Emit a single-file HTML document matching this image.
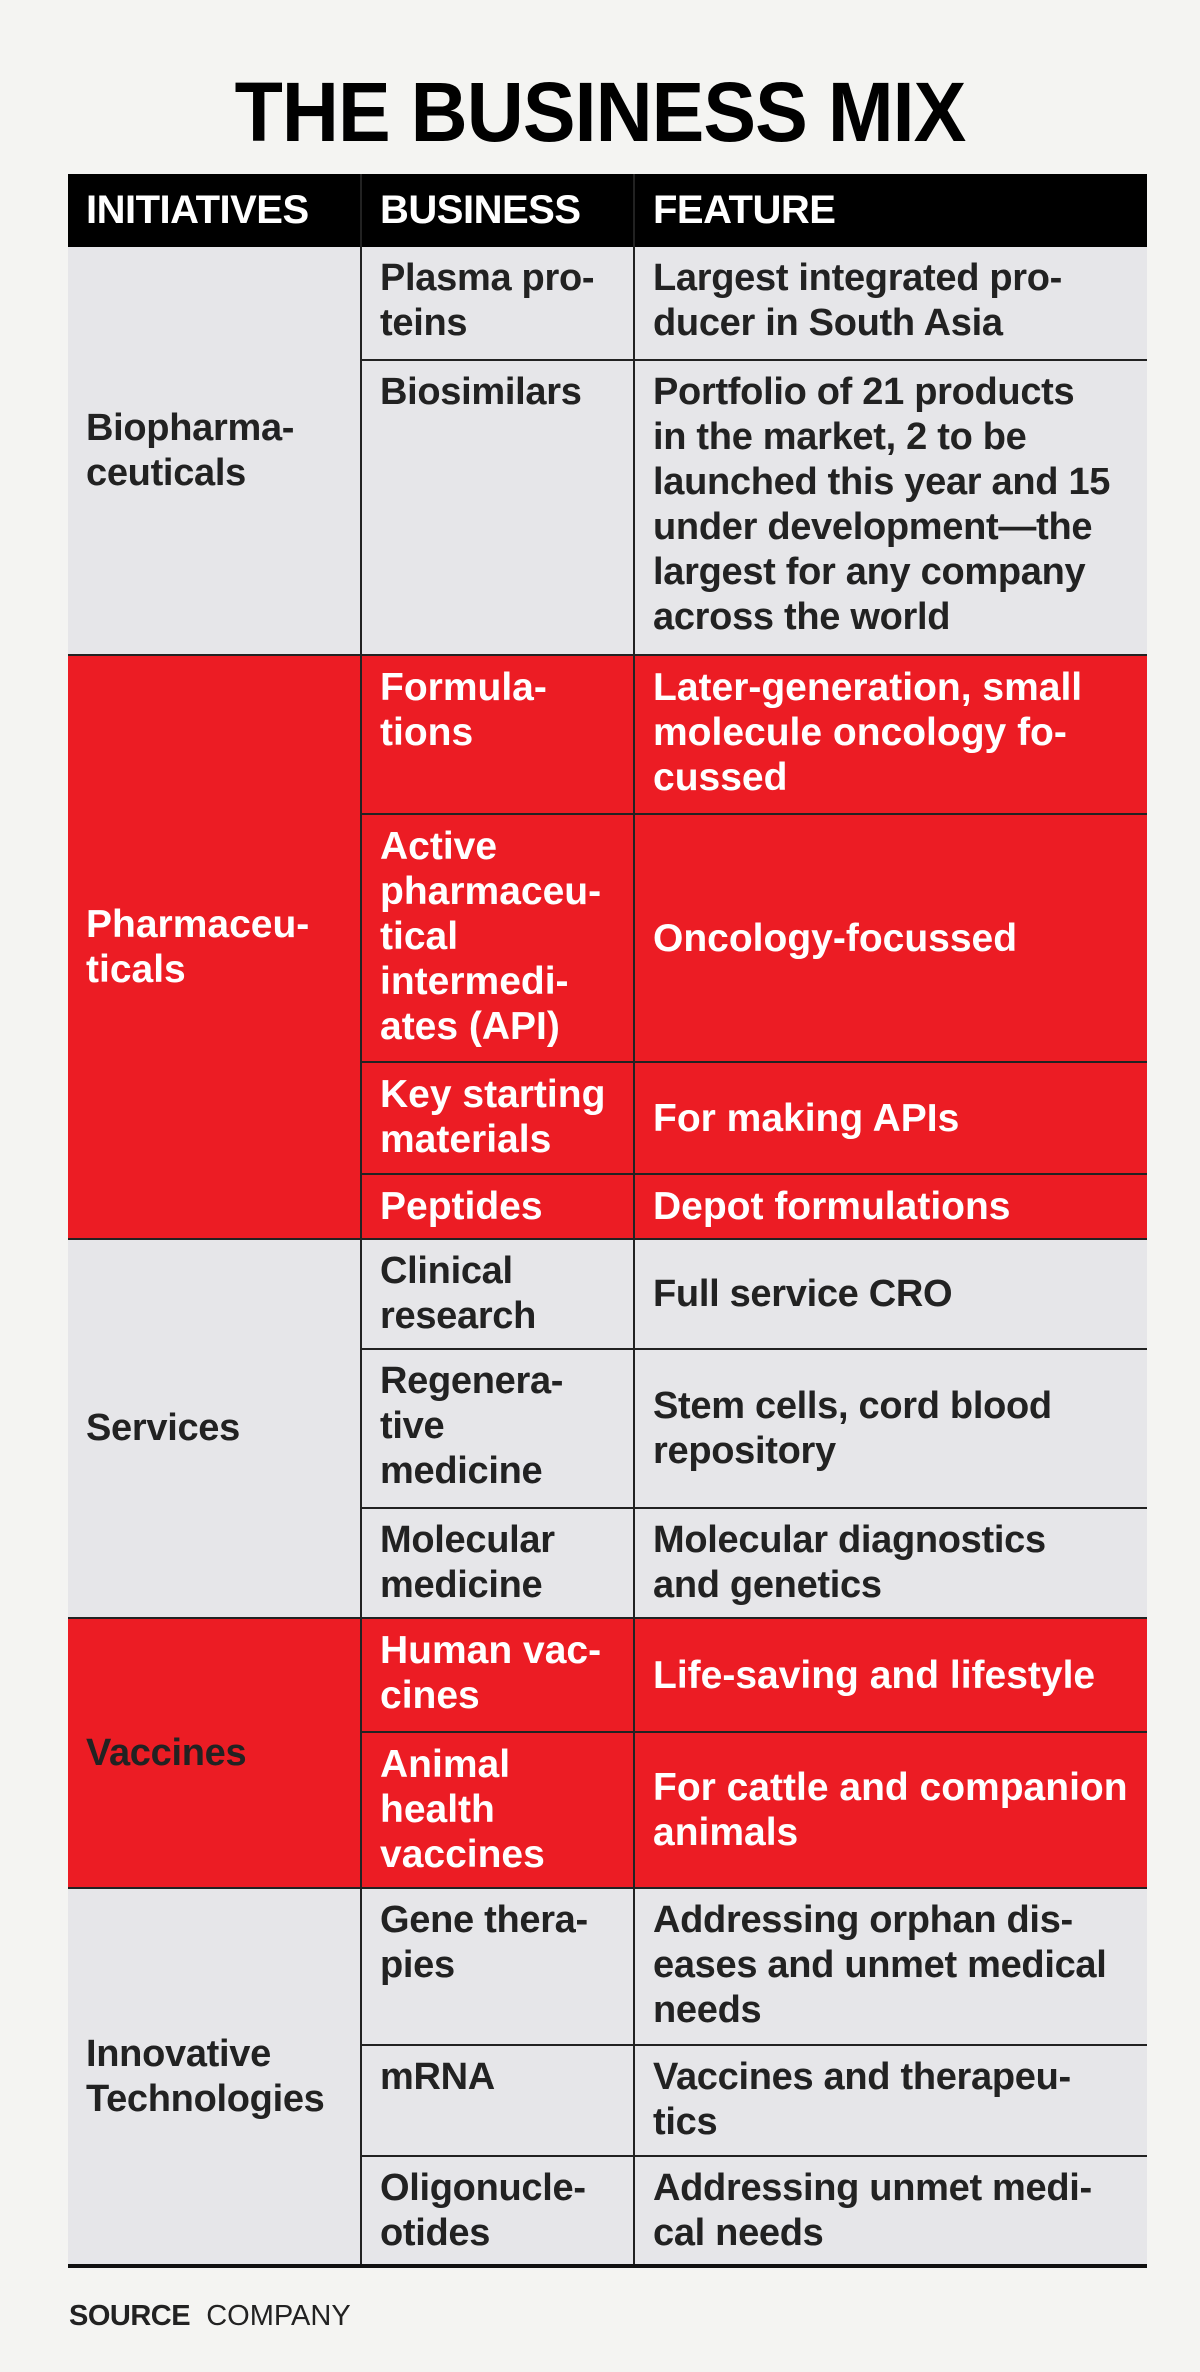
<!DOCTYPE html>
<html><head><meta charset="utf-8"><style>
body{margin:0;background:#f4f4f2;width:1200px;height:2372px;position:relative;overflow:hidden;font-family:"Liberation Sans",sans-serif;}
.t{position:absolute;left:0;width:1200px;top:64px;text-align:center;font-weight:bold;font-size:84px;color:#000;letter-spacing:-1px;transform:scaleX(0.94);}
.c{position:absolute;box-sizing:border-box;font-weight:bold;font-size:38px;line-height:45px;white-space:nowrap;padding-left:18px;}
.g{background:#e6e6e9;color:#222;letter-spacing:-0.3px;}
.r{background:#ec1c24;color:#fff;font-size:39px;letter-spacing:0px;}
.h{background:#000;color:#fff;font-size:40px;display:flex;align-items:center;letter-spacing:-0.5px;}
.v{display:flex;align-items:center;}
.tp{padding-top:9px;}
.bl{border-left:2px solid #222;}
.bt{border-top:2px solid #222;}
.src{position:absolute;left:69px;top:2300px;font-size:29px;color:#222;}
</style></head><body>
<div class="t">THE BUSINESS MIX</div>

<div class="c h" style="left:68px;top:174px;width:292px;height:73px">INITIATIVES</div>
<div class="c h bl" style="left:360px;top:174px;width:273px;height:73px">BUSINESS</div>
<div class="c h bl" style="left:633px;top:174px;width:514px;height:73px">FEATURE</div>

<!-- Biopharmaceuticals -->
<div class="c g v" style="left:68px;top:247px;width:292px;height:407px">Biopharma-<br>ceuticals</div>
<div class="c g bl tp" style="left:360px;top:247px;width:273px;height:112px">Plasma pro-<br>teins</div>
<div class="c g bl tp" style="left:633px;top:247px;width:514px;height:112px">Largest integrated pro-<br>ducer in South Asia</div>
<div class="c g bl bt tp" style="left:360px;top:359px;width:273px;height:295px">Biosimilars</div>
<div class="c g bl bt tp" style="left:633px;top:359px;width:514px;height:295px">Portfolio of 21 products<br>in the market, 2 to be<br>launched this year and 15<br>under development—the<br>largest for any company<br>across the world</div>

<!-- Pharmaceuticals -->
<div class="c r v bt" style="left:68px;top:654px;width:292px;height:584px">Pharmaceu-<br>ticals</div>
<div class="c r bl bt tp" style="left:360px;top:654px;width:273px;height:159px">Formula-<br>tions</div>
<div class="c r bl bt tp" style="left:633px;top:654px;width:514px;height:159px">Later-generation, small<br>molecule oncology fo-<br>cussed</div>
<div class="c r bl bt tp" style="left:360px;top:813px;width:273px;height:248px">Active<br>pharmaceu-<br>tical<br>intermedi-<br>ates (API)</div>
<div class="c r bl bt v" style="left:633px;top:813px;width:514px;height:248px">Oncology-focussed</div>
<div class="c r bl bt tp" style="left:360px;top:1061px;width:273px;height:112px">Key starting<br>materials</div>
<div class="c r bl bt v" style="left:633px;top:1061px;width:514px;height:112px">For making APIs</div>
<div class="c r bl bt v" style="left:360px;top:1173px;width:273px;height:65px">Peptides</div>
<div class="c r bl bt v" style="left:633px;top:1173px;width:514px;height:65px">Depot formulations</div>

<!-- Services -->
<div class="c g v bt" style="left:68px;top:1238px;width:292px;height:379px">Services</div>
<div class="c g bl bt tp" style="left:360px;top:1238px;width:273px;height:110px">Clinical<br>research</div>
<div class="c g bl bt v" style="left:633px;top:1238px;width:514px;height:110px">Full service CRO</div>
<div class="c g bl bt tp" style="left:360px;top:1348px;width:273px;height:159px">Regenera-<br>tive<br>medicine</div>
<div class="c g bl bt v" style="left:633px;top:1348px;width:514px;height:159px">Stem cells, cord blood<br>repository</div>
<div class="c g bl bt tp" style="left:360px;top:1507px;width:273px;height:110px">Molecular<br>medicine</div>
<div class="c g bl bt tp" style="left:633px;top:1507px;width:514px;height:110px">Molecular diagnostics<br>and genetics</div>

<!-- Vaccines -->
<div class="c r v bt" style="left:68px;top:1617px;width:292px;height:270px;color:#222;font-size:38px;letter-spacing:-0.3px">Vaccines</div>
<div class="c r bl bt tp" style="left:360px;top:1617px;width:273px;height:114px">Human vac-<br>cines</div>
<div class="c r bl bt v" style="left:633px;top:1617px;width:514px;height:114px">Life-saving and lifestyle</div>
<div class="c r bl bt tp" style="left:360px;top:1731px;width:273px;height:156px">Animal<br>health<br>vaccines</div>
<div class="c r bl bt v" style="left:633px;top:1731px;width:514px;height:156px">For cattle and companion<br>animals</div>

<!-- Innovative Technologies -->
<div class="c g v bt" style="left:68px;top:1887px;width:292px;height:378px">Innovative<br>Technologies</div>
<div class="c g bl bt tp" style="left:360px;top:1887px;width:273px;height:157px">Gene thera-<br>pies</div>
<div class="c g bl bt tp" style="left:633px;top:1887px;width:514px;height:157px">Addressing orphan dis-<br>eases and unmet medical<br>needs</div>
<div class="c g bl bt tp" style="left:360px;top:2044px;width:273px;height:111px">mRNA</div>
<div class="c g bl bt tp" style="left:633px;top:2044px;width:514px;height:111px">Vaccines and therapeu-<br>tics</div>
<div class="c g bl bt tp" style="left:360px;top:2155px;width:273px;height:110px">Oligonucle-<br>otides</div>
<div class="c g bl bt tp" style="left:633px;top:2155px;width:514px;height:110px">Addressing unmet medi-<br>cal needs</div>

<div style="position:absolute;left:68px;top:2264px;width:1079px;height:4px;background:#111"></div>
<div class="src"><b style="letter-spacing:-0.5px">SOURCE</b>&nbsp; COMPANY</div>
</body></html>
